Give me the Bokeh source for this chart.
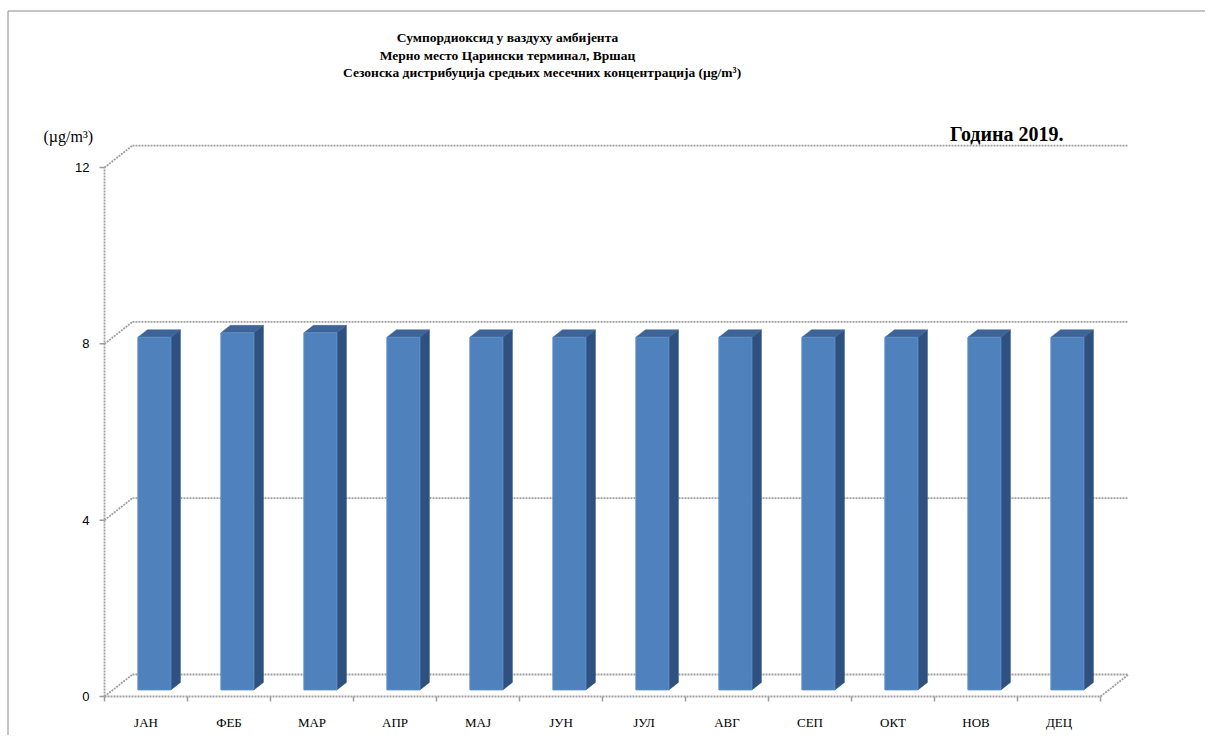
from bokeh.plotting import figure
from bokeh.models import Range1d
from bokeh.core.properties import value
from bokeh.embed import file_html
from bokeh.resources import INLINE

# ---------------- data ----------------
months = ["ЈАН", "ФЕБ", "МАР", "АПР", "МАЈ", "ЈУН", "ЈУЛ", "АВГ", "СЕП", "ОКТ", "НОВ", "ДЕЦ"]
so2 = [8.0, 8.1, 8.1, 8.0, 8.0, 8.0, 8.0, 8.0, 8.0, 8.0, 8.0, 8.0]
y_ticks = [0, 4, 8, 12]
y_tick_labels = ["0", "4", "8", "12"]
title_lines = [
    "Сумпордиоксид у ваздуху амбијента",
    "Мерно место Царински терминал, Вршац",
    "Сезонска дистрибуција  средњих месечних  концентрација (µg/m³)",
]
unit_label = "(µg/m³)"
year_label = "Година 2019."

# ---------------- layout ----------------
W, H = 1205, 735
PAGE = 0        # canvas origin in page px
AX_X = 104      # page px of the front value axis
AX_Y = 696      # page px of the front zero line
PXU = 83.0      # px per category
PYU = 44.08     # px per value unit


def ux(px):
    return (px - AX_X) / PXU


def vy(py):
    return (AX_Y - py) / PYU


DX = 28 / PXU   # depth offset of back wall
DY = 22 / PYU
F = 0.30        # bar front depth fraction
BD = 0.34       # bar depth fraction
HW = 33 / PXU / 2

p = figure(width=W, height=H, output_backend="svg", toolbar_location=None,
           x_range=Range1d(ux(PAGE), ux(PAGE + W)),
           y_range=Range1d(vy(PAGE + H), vy(PAGE)),
           x_axis_location=None, y_axis_location=None,
           min_border=0, tools="")
p.grid.visible = False
p.outline_line_color = None
p.background_fill_color = "white"
p.border_fill_color = "white"

GRID = dict(line_color="#a0a0a0", line_width=1.8, line_dash="2 1")
N = len(months)

# back wall gridlines + diagonals on the left wall
p.segment(x0=[DX] * len(y_ticks), y0=[v + DY for v in y_ticks],
          x1=[N + DX] * len(y_ticks), y1=[v + DY for v in y_ticks], **GRID)
p.segment(x0=[0] * len(y_ticks), y0=y_ticks,
          x1=[DX] * len(y_ticks), y1=[v + DY for v in y_ticks], **GRID)
# floor front edge and right edge
p.segment(x0=[0, N], y0=[0, 0], x1=[N, N + DX], y1=[0, DY], **GRID)
# front value axis
p.segment(x0=[0], y0=[0], x1=[0], y1=[max(y_ticks)], **GRID)
# value ticks
p.segment(x0=[-5 / PXU] * len(y_ticks), y0=y_ticks, x1=[0] * len(y_ticks), y1=y_ticks,
          line_color="#9c9c9c", line_width=1.5)
# category ticks
p.segment(x0=list(range(N + 1)), y0=[0] * (N + 1), x1=list(range(N + 1)),
          y1=[-5 / PYU] * (N + 1), line_color="#9c9c9c", line_width=1.5)

# bars
cx = [i + 0.5 + F * DX for i in range(N)]
left = [c - HW for c in cx]
right = [c + HW for c in cx]
base = [F * DY] * N
top = [v + F * DY for v in so2]
BDX, BDY = BD * DX, BD * DY

side_xs = [[r, r + BDX, r + BDX, r] for r in right]
side_ys = [[b, b + BDY, t + BDY, t] for b, t in zip(base, top)]
top_xs = [[l, r, r + BDX, l + BDX] for l, r in zip(left, right)]
top_ys = [[t, t, t + BDY, t + BDY] for t in top]

p.patches(xs=side_xs, ys=side_ys, fill_color="#2f5180", line_color="#2f5180", line_width=0.5)
p.patches(xs=top_xs, ys=top_ys, fill_color="#3d6397", line_color="#3d6397", line_width=0.5)
p.quad(left=left, right=right, bottom=base, top=top,
       fill_color="#4f81bd", line_color="#5a8cc8", line_width=1)

# value tick labels
p.text(x=[-15 / PXU] * len(y_ticks), y=y_ticks, text=y_tick_labels,
       text_align="right", text_baseline="middle",
       text_font=value("Liberation Sans"), text_font_size="13px", text_color="#000000")

# category labels
p.text(x=[i + 0.5 for i in range(N)], y=[vy(722)] * N, text=months,
       text_align="center", text_baseline="middle",
       text_font=value("Liberation Serif"), text_font_size="13px", text_color="#000000")

# titles
p.text(x=[ux(507), ux(507), ux(545)], y=[vy(37), vy(55), vy(72)], text=title_lines,
       text_align="center", text_baseline="middle",
       text_font=value("Liberation Serif"), text_font_style="bold",
       text_font_size="13.5px", text_color="#000000")

# unit label and year
p.text(x=[ux(43)], y=[vy(136)], text=[unit_label], text_align="left", text_baseline="middle",
       text_font=value("Liberation Serif"), text_font_size="16px", text_color="#000000")
p.text(x=[ux(1063)], y=[vy(133)], text=[year_label], text_align="right", text_baseline="middle",
       text_font=value("Liberation Serif"), text_font_style="bold",
       text_font_size="20px", text_color="#000000")

# chart area border (left and top edges visible)
p.segment(x0=[ux(7.5), ux(7.5)], y0=[vy(10.5), vy(10.5)],
          x1=[ux(7.5), ux(PAGE + W)], y1=[vy(PAGE + H), vy(10.5)],
          line_color="#8a8a8a", line_width=1)

open("out.html", "w").write(file_html(p, INLINE))
